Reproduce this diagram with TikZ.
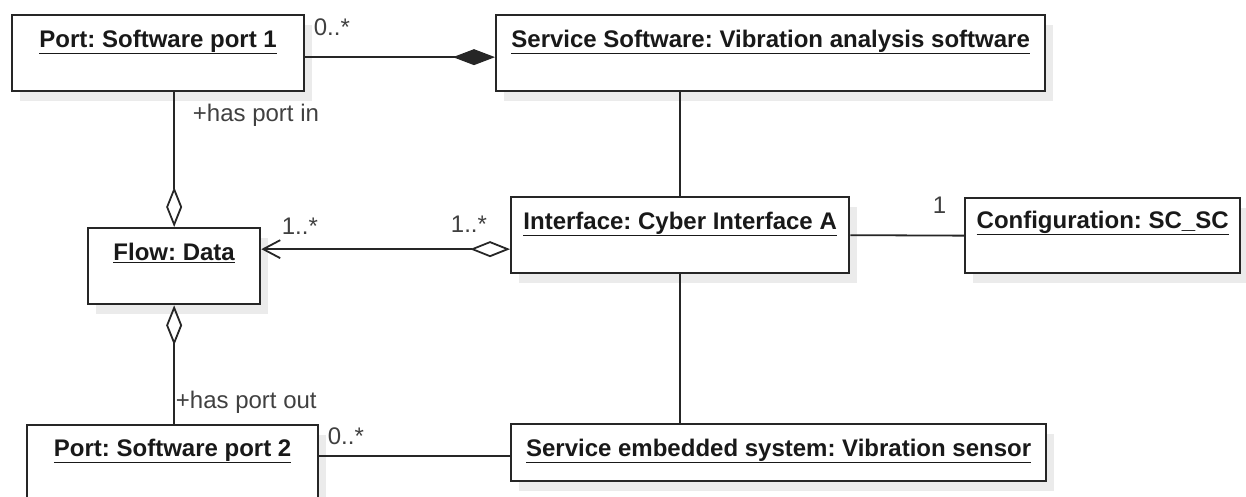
\documentclass[tikz,border=0pt]{standalone}
\usepackage{fontspec}
\setmainfont{Liberation Sans}
\usetikzlibrary{arrows.meta,shadows}
\frenchspacing

\begin{document}
\begin{tikzpicture}[x=1pt, y=-1pt, line width=1.8pt, line cap=butt, line join=miter,
  obj/.style={draw=black!85, line width=2.3pt, fill=white, anchor=north west,
    inner xsep=0pt, inner ysep=0pt, text height=32pt, text depth=44pt,
    font=\fontsize{24}{29}\selectfont\bfseries, text=black!90,
    drop shadow={shadow xshift=8pt, shadow yshift=-10pt, fill=black!8, opacity=1}},
  mult/.style={font=\fontsize{24}{29}\selectfont, text=black!75, inner sep=0pt, anchor=west},
  link/.style={draw=black!85, line width=1.8pt}]

  %% ════ 对象框 ════
  \node[obj, minimum width=292pt] (port1) at (11,14) {\underline{Port: Software port 1}};
  \node[obj, minimum width=549pt] (service) at (495,14) {\underline{Service Software: Vibration analysis software}};
  \node[obj, minimum width=172pt] (flow) at (87,227) {\underline{Flow: Data}};
  \node[obj, minimum width=338pt] (iface) at (510,196) {\underline{Interface: Cyber Interface A}};
  \node[obj, minimum width=275pt, text height=30pt, text depth=45pt] (config) at (964,197) {\underline{Configuration: SC\_SC}};
  \node[obj, minimum width=291pt, text height=31pt, text depth=90pt] (port2) at (26,424) {\underline{Port: Software port 2}};
  \node[obj, minimum width=535pt, text height=32pt, text depth=25pt] (sensor) at (510,423) {\underline{Service embedded system: Vibration sensor}};

  %% ════ 连线 ════
  \draw[link, -{Diamond[length=42pt, width=16pt]}] ([yshift=-4pt]port1.east) -- ([yshift=-4pt]service.west);
  \draw[link, -{Diamond[open, length=40pt, width=16pt]}] (flow.north |- port1.south) -- (flow.north);
  \draw[link] (iface.north |- service.south) -- (iface.north);
  \coordinate (ifin) at ([yshift=-14pt]iface.west);
  \draw[link, {Straight Barb[length=17pt, width=18pt]}-{Diamond[open, length=40pt, width=16pt]}] (ifin -| flow.east) -- (ifin);
  \draw[link] (iface.east) -- (config.west);
  \draw[link] (iface.south) -- (iface.south |- sensor.north);
  \draw[link, {Diamond[open, length=40pt, width=16pt]}-] (flow.south) -- (flow.south |- port2.north);
  \coordinate (snin) at ([yshift=-3pt]sensor.west);
  \draw[link] (snin -| port2.east) -- (snin);

  %% ════ 标签 ════
  \node[mult] (m1) at (313,27) {0..*};
  \node[mult] (r1) at (192,115) {+has port in};
  \node[mult] (m2) at (281,226) {1..*};
  \node[mult] (m3) at (450,224) {1..*};
  \node[mult] (m4) at (932,205) {1};
  \node[mult] (r2) at (175,402) {+has port out};
  \node[mult] (m5) at (327,436) {0..*};

  % 钉死画布
  \pgfresetboundingbox
  \path[use as bounding box] (0,0) rectangle (1246,497);
\end{tikzpicture}
\end{document}
